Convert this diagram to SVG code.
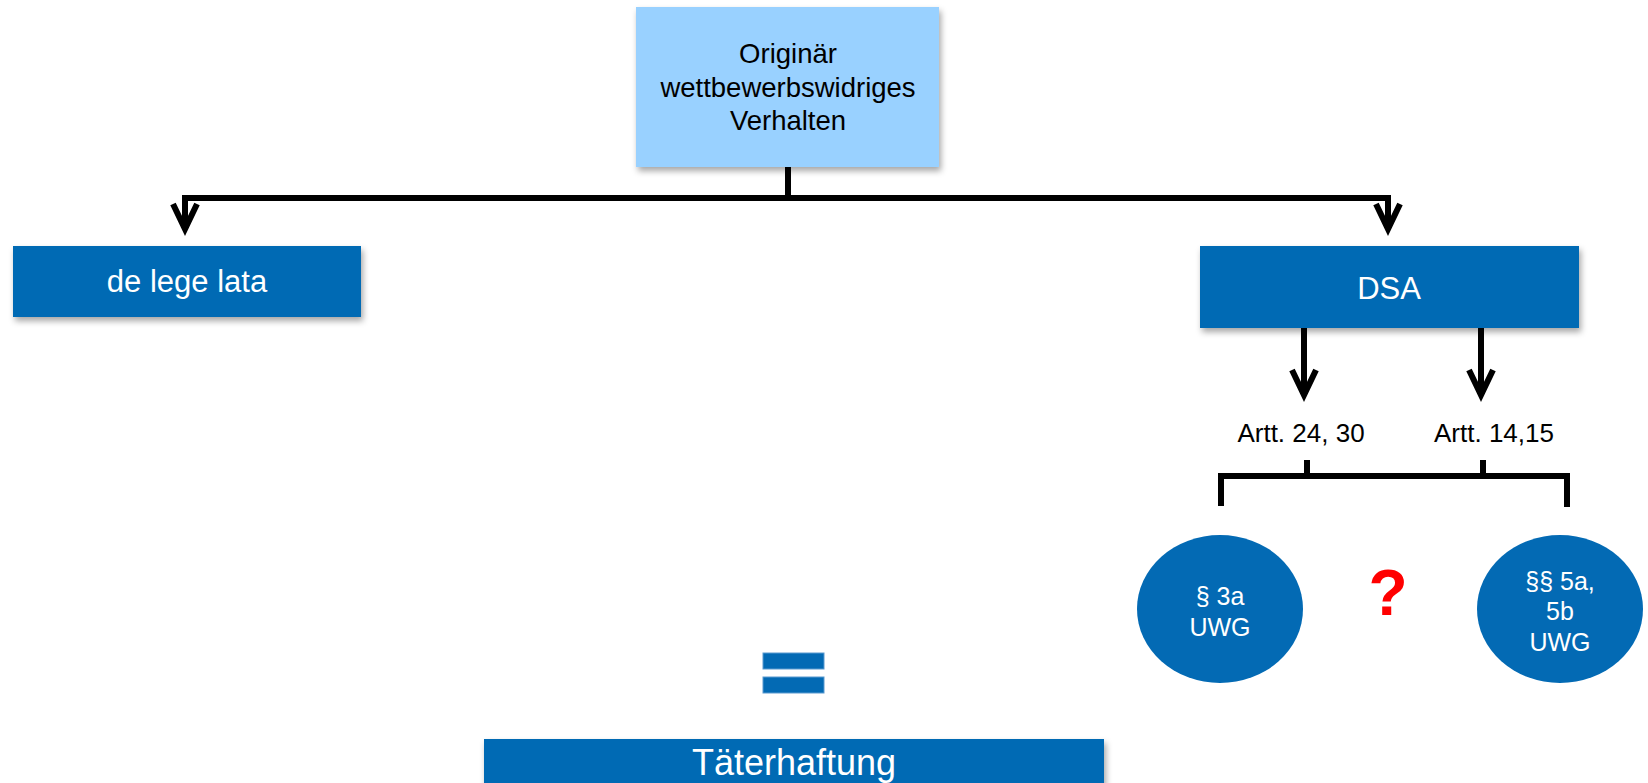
<svg xmlns="http://www.w3.org/2000/svg" width="1648" height="783" viewBox="0 0 1648 783">
  <style>
    .box { fill: #036AB4; filter: url(#sh); }
    .lbox { fill: #99D1FF; filter: url(#sh); }
    .t { font-family: "Liberation Sans", Arial, sans-serif; text-anchor: middle; }
    .w { fill: #FFFFFF; }
    .k { fill: #000000; }
    .ln { fill: none; stroke: #000; stroke-width: 6; }
  </style>
  <defs>
    <filter id="sh" x="-10%" y="-20%" width="120%" height="150%">
      <feDropShadow dx="2" dy="4" stdDeviation="3" flood-color="#000" flood-opacity="0.35"/>
    </filter>
    <marker id="arr" markerUnits="userSpaceOnUse" viewBox="-40 -20 50 40" markerWidth="50" markerHeight="40" refX="0" refY="0" orient="auto" overflow="visible">
      <path d="M-25,-12 L0,0 L-25,12" fill="none" stroke="#000" stroke-width="6"/>
    </marker>
  </defs>
  <rect width="1648" height="783" fill="#FFFFFF"/>

  <g id="connectors">
    <path class="ln" d="M788,167 V198"/>
    <path class="ln" d="M788,198 H185 V229" marker-end="url(#arr)"/>
    <path class="ln" d="M788,198 H1388 V229" marker-end="url(#arr)"/>
    <path class="ln" d="M1304,328 V395" marker-end="url(#arr)"/>
    <path class="ln" d="M1481,328 V395" marker-end="url(#arr)"/>
    <path class="ln" d="M1221,506 V476 H1567 V507"/>
    <path class="ln" d="M1307,460 V476 M1483,460 V476"/>
  </g>

  <g id="node-originaer">
    <rect class="lbox" x="636" y="7" width="303" height="160"/>
    <text class="t k" font-size="27.5" x="788" y="63">Originär</text>
    <text class="t k" font-size="27.5" x="788" y="97">wettbewerbswidriges</text>
    <text class="t k" font-size="27.5" x="788" y="130">Verhalten</text>
  </g>

  <g id="node-delegelata">
    <rect class="box" x="13" y="246" width="348" height="71"/>
    <text class="t w" font-size="31" x="187" y="292">de lege lata</text>
  </g>

  <g id="node-dsa">
    <rect class="box" x="1200" y="246" width="379" height="82"/>
    <text class="t w" font-size="31" x="1389" y="299">DSA</text>
  </g>

  <g id="label-artt2430">
    <text class="t k" font-size="26" x="1301" y="442">Artt. 24, 30</text>
  </g>
  <g id="label-artt1415">
    <text class="t k" font-size="26" x="1494" y="442">Artt. 14,15</text>
  </g>

  <g id="node-3a">
    <ellipse cx="1220" cy="609" rx="83" ry="74" fill="#036AB4"/>
    <text class="t w" font-size="25" x="1220" y="605">§ 3a</text>
    <text class="t w" font-size="25" x="1220" y="636">UWG</text>
  </g>

  <g id="node-question">
    <text class="t" font-size="64" font-weight="bold" fill="#FF0000" x="1388" y="615">?</text>
  </g>

  <g id="node-5a5b">
    <ellipse cx="1560" cy="609" rx="83" ry="74" fill="#036AB4"/>
    <text class="t w" font-size="25" x="1560" y="590">§§ 5a,</text>
    <text class="t w" font-size="25" x="1560" y="620">5b</text>
    <text class="t w" font-size="25" x="1560" y="651">UWG</text>
  </g>

  <g id="node-equals">
    <rect x="763" y="653" width="61" height="16" fill="#036AB4" stroke="#5A9AD0" stroke-width="1"/>
    <rect x="763" y="677" width="61" height="16" fill="#036AB4" stroke="#5A9AD0" stroke-width="1"/>
  </g>

  <g id="node-taeterhaftung">
    <rect class="box" x="484" y="739" width="620" height="60"/>
    <text class="t w" font-size="36" x="794" y="775">Täterhaftung</text>
  </g>
</svg>
